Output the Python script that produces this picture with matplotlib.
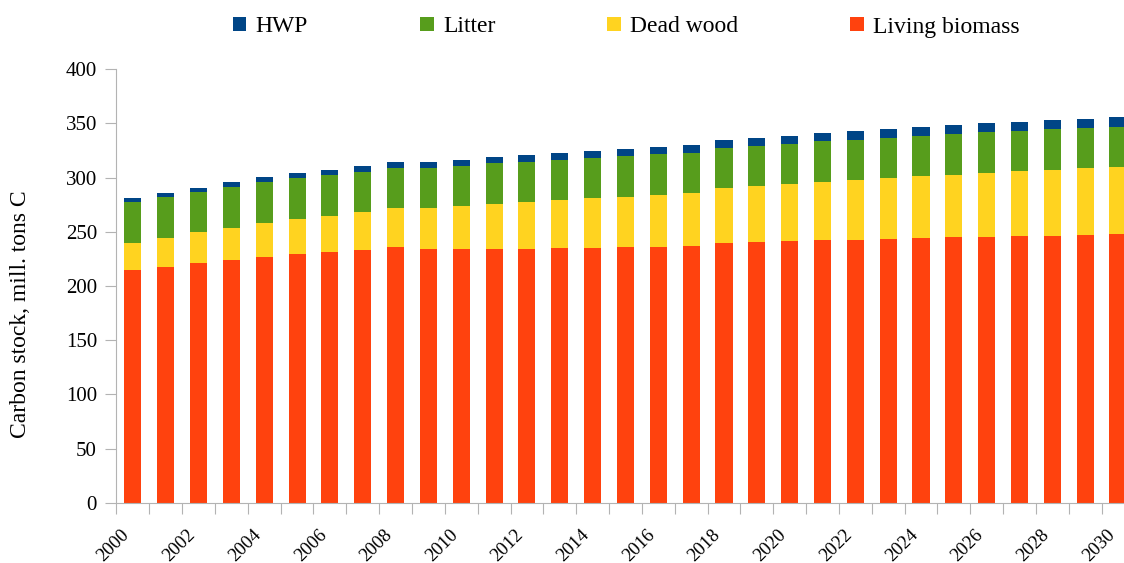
import matplotlib.pyplot as plt
import numpy as np

years = list(range(2000, 2031))
living_biomass = [214.9, 217.7, 221.4, 224.2, 226.9, 229.7, 231.5, 233.4, 236.1, 234.3,
                  234.3, 234.3, 234.3, 235.2, 235.2, 236.1, 236.1, 237.0, 239.8, 240.7,
                  241.6, 242.5, 242.5, 243.5, 244.4, 245.3, 245.3, 246.2, 246.2, 247.1, 248.0]
dead_wood = [24.9, 26.7, 28.5, 29.4, 31.3, 32.1, 33.1, 34.9, 35.9, 37.7,
             39.6, 41.4, 43.2, 44.2, 46.0, 46.0, 47.9, 48.8, 50.6, 51.5,
             52.4, 53.3, 55.2, 56.0, 57.0, 57.0, 58.8, 59.8, 60.7, 61.6, 61.6]
litter = [37.7, 37.7, 36.8, 37.7, 37.7, 37.8, 37.7, 36.8, 36.8, 36.8,
          36.7, 37.6, 36.8, 36.7, 36.8, 37.7, 37.6, 36.7, 36.8, 36.8,
          36.9, 37.8, 36.8, 36.8, 36.8, 37.7, 37.8, 36.8, 37.7, 36.8, 36.9]
hwp = [3.7, 3.7, 3.7, 4.6, 4.6, 4.6, 4.7, 5.5, 5.5, 5.5,
       5.5, 5.6, 6.4, 6.4, 6.4, 6.4, 6.4, 7.4, 7.3, 7.3,
       7.3, 7.4, 8.3, 8.3, 8.3, 8.3, 8.2, 8.2, 8.3, 8.3, 9.1]

series = [
    ("Living biomass", living_biomass, "#ff420e"),
    ("Dead wood", dead_wood, "#ffd320"),
    ("Litter", litter, "#579d1c"),
    ("HWP", hwp, "#004586"),
]

serif = ["Liberation Serif", "DejaVu Serif"]
plt.rcParams["font.family"] = serif
grey = "#b3b3b3"

fig = plt.figure(figsize=(11.24, 5.63), dpi=100)
ax = fig.add_axes([0.1036, 0.1071, 0.9057, 0.7698])

x = np.arange(len(years))
bottom = np.zeros(len(years))
handles = {}
for name, vals, color in series:
    vals = np.array(vals)
    handles[name] = ax.bar(x, vals, width=0.52, bottom=bottom, color=color, label=name)
    bottom += vals

ax.set_xlim(-0.5, len(years) - 0.5)
ax.set_ylim(0, 400)
ax.set_yticks(np.arange(0, 401, 50))

# boundary ticks, labels on every other year
ax.set_xticks(np.arange(-0.5, len(years), 1.0))
ax.set_xticklabels([])
ax.set_xticks(x[::2], [str(y) for y in years[::2]], minor=True)
ax.tick_params(axis="x", which="major", direction="out", length=8, width=0.8, color=grey)
ax.tick_params(axis="x", which="minor", length=0, pad=17)
ax.tick_params(axis="y", direction="out", length=8, width=0.8, color=grey, pad=6)
for lab in ax.get_xticklabels(minor=True):
    lab.set_rotation(45)
    lab.set_ha("right")
    lab.set_family(serif)
    lab.set_fontsize(13.5)
for lab in ax.get_yticklabels():
    lab.set_family(serif)
    lab.set_fontsize(15)

for side in ["top", "right"]:
    ax.spines[side].set_visible(False)
for side in ["left", "bottom"]:
    ax.spines[side].set_color(grey)
    ax.spines[side].set_linewidth(0.8)

fig.text(21 / 1124, 1 - 314 / 563, "Carbon stock, mill. tons C", rotation=90,
         ha="center", va="center", fontsize=17)

order = ["HWP", "Litter", "Dead wood", "Living biomass"]
fig.legend([handles[n] for n in order], order, loc="center left", ncol=4,
           bbox_to_anchor=(233 / 1124, 1 - 27 / 563), frameon=False, fontsize=17,
           handlelength=0.57, handleheight=0.57, handletextpad=0.39,
           columnspacing=4.75, borderpad=0, borderaxespad=0)

fig.savefig("out.png", dpi=100)
